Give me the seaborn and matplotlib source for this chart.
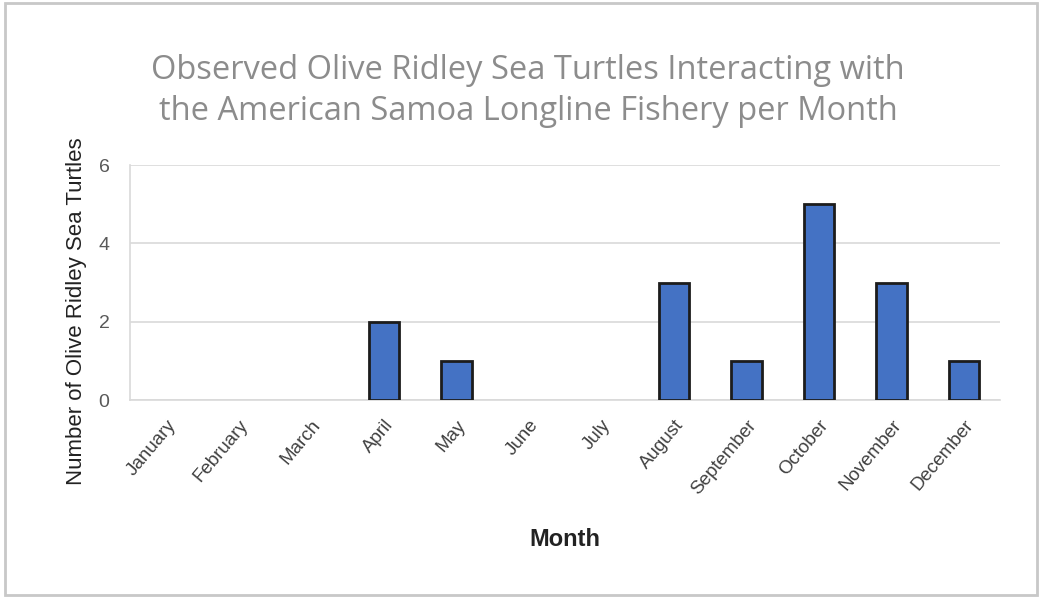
import pandas as pd
import seaborn as sns
import matplotlib.pyplot as plt
from matplotlib.patches import Rectangle

MONTHS = ["January", "February", "March", "April", "May", "June",
          "July", "August", "September", "October", "November", "December"]
TURTLES = [0, 0, 0, 2, 1, 0, 0, 3, 1, 5, 3, 1]
Y_TICKS = [0, 2, 4, 6]

TITLE = ("Observed Olive Ridley Sea Turtles Interacting with\n"
         "the American Samoa Longline Fishery per Month")

sns.set_style("white")
plt.rcParams['font.family'] = ['Liberation Sans', 'DejaVu Sans']

df = pd.DataFrame({"Month": MONTHS, "Turtles": TURTLES})

fig = plt.figure(figsize=(10.42, 5.98), dpi=100)
ax = fig.add_axes([0.125, 0.331, 0.835, 0.393])

sns.barplot(data=df, x="Month", y="Turtles", ax=ax, color="#4472C4",
            saturation=1, width=0.42, edgecolor="#1c1c1c", linewidth=2, zorder=3)
# empty months show no bar outline
for bar in ax.patches:
    if bar.get_height() == 0:
        bar.set_linewidth(0)

ax.set_ylim(0, 6)
ax.set_yticks(Y_TICKS)
ax.grid(axis="y", color="#d9d9d9", linewidth=1.2, zorder=0)
for side in ["top", "right"]:
    ax.spines[side].set_visible(False)
for side in ["left", "bottom"]:
    ax.spines[side].set_color("#d9d9d9")
    ax.spines[side].set_linewidth(1.2)
ax.tick_params(axis="both", length=0)
ax.tick_params(axis="y", labelsize=14, labelcolor="#595959", pad=15)
ax.tick_params(axis="x", labelsize=13.5, labelcolor="#404040", pad=12)
plt.setp(ax.get_xticklabels(), rotation=50, ha="right", rotation_mode="anchor")

ax.set_ylabel("Number of Olive Ridley Sea Turtles", fontsize=16, color="#222222")
ax.yaxis.set_label_coords(-0.05, 0.38)
ax.set_xlabel("Month", fontsize=17, fontweight="bold", color="#222222", labelpad=22)

fig.text(0.507, 0.848, TITLE, ha="center", va="center", fontsize=23.5,
         color="#8c8c8c", family=["Open Sans", "DejaVu Sans"], linespacing=1.3)

fig.patches.append(Rectangle((0.005, 0.005), 0.99, 0.99, transform=fig.transFigure,
                             fill=False, edgecolor="#c8c8c8", linewidth=2))

fig.savefig("out.png", dpi=100)
